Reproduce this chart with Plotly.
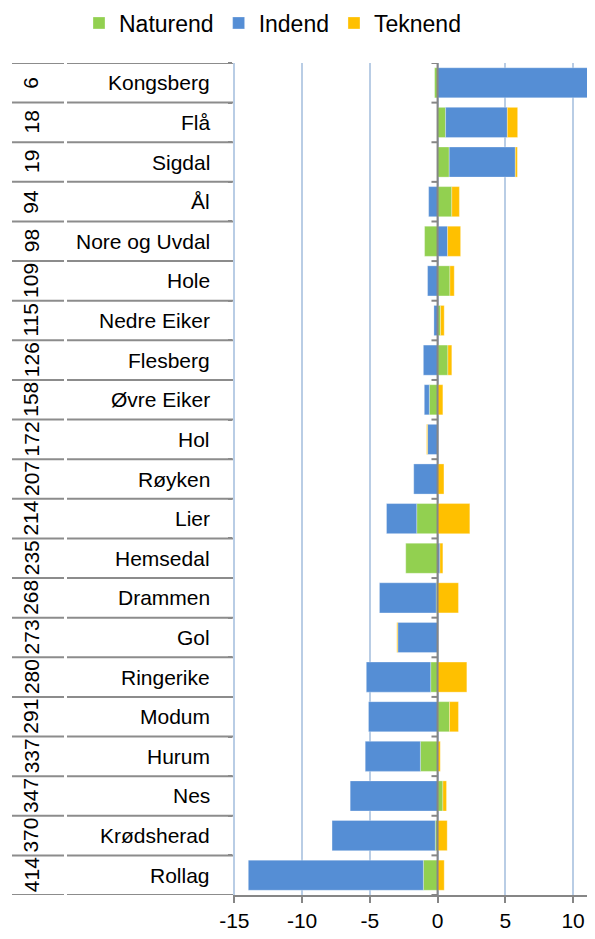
import plotly.graph_objects as go

categories = ["Kongsberg", "Flå", "Sigdal", "Ål", "Nore og Uvdal", "Hole", "Nedre Eiker",
              "Flesberg", "Øvre Eiker", "Hol", "Røyken", "Lier", "Hemsedal", "Drammen",
              "Gol", "Ringerike", "Modum", "Hurum", "Nes", "Krødsherad", "Rollag"]
ranks = [6, 18, 19, 94, 98, 109, 115, 126, 158, 172, 207, 214, 235, 268, 273, 280, 291,
         337, 347, 370, 414]
naturend = [-0.22, 0.59, 0.86, 1.05, -0.96, 0.91, 0.22, 0.76, -0.61, 0.0, 0.0, -1.54,
            -2.35, -0.10, 0.0, -0.51, 0.88, -1.27, 0.39, -0.17, -1.05]
indend = [12.3, 4.56, 4.88, -0.66, 0.74, -0.74, -0.27, -1.05, -0.37, -0.74, -1.76, -2.23,
          0.17, -4.19, -2.94, -4.75, -5.10, -4.07, -6.45, -7.62, -12.92]
teknend = [0.0, 0.76, 0.15, 0.56, 0.96, 0.32, 0.27, 0.29, 0.39, -0.07, 0.47, 2.38, 0.22,
           1.54, -0.07, 2.16, 0.66, 0.20, 0.27, 0.71, 0.49]
tick_vals = [-15, -10, -5, 0, 5, 10]

FONT = "Liberation Sans, Arial, sans-serif"
OFF = 8  # page body margin offset
W, H = 595 - OFF, 939 - 2 * OFF
ML, MR, MT = 233 - OFF, 0, 63 - OFF
MB = H - (895 - OFF)
plot_w = W - ML - MR
plot_h = H - MT - MB

fig = go.Figure()
for name, vals, col in [("Naturend", naturend, "#92D050"),
                        ("Indend", indend, "#558ED5"),
                        ("Teknend", teknend, "#FFC000")]:
    fig.add_trace(go.Bar(y=categories, x=vals, name=name, orientation="h",
                         marker=dict(color=col, line=dict(color="rgba(255,255,255,0.5)", width=0.6))))

def px_to_paper(px):
    # px given in page coordinates of the reference
    return (px - OFF - ML) / plot_w

annotations = []
shapes = []
for i, (c, r) in enumerate(zip(categories, ranks)):
    annotations.append(dict(x=px_to_paper(212), xref="paper", y=c, yref="y", text=c,
                            showarrow=False, xanchor="right", yanchor="middle",
                            font=dict(family=FONT, size=21, color="#000000")))
    annotations.append(dict(x=px_to_paper(31), xref="paper", y=c, yref="y", text=str(r),
                            showarrow=False, xanchor="center", yanchor="middle", textangle=-90,
                            font=dict(family=FONT, size=21, color="#000000")))

for b in range(len(categories) + 1):
    yb = b - 0.5
    shapes.append(dict(type="line", xref="paper", yref="y", x0=px_to_paper(12), x1=px_to_paper(64),
                       y0=yb, y1=yb, line=dict(color="#8C8C8C", width=2)))
    shapes.append(dict(type="line", xref="paper", yref="y", x0=px_to_paper(67), x1=px_to_paper(233),
                       y0=yb, y1=yb, line=dict(color="#8C8C8C", width=2)))
    # ticks on the zero axis
    shapes.append(dict(type="line", xref="x", yref="y", x0=-0.45, x1=0, y0=yb, y1=yb,
                       line=dict(color="#868686", width=2), layer="above"))

# zero axis line
shapes.append(dict(type="line", xref="x", yref="paper", x0=0, x1=0, y0=0, y1=1,
                   line=dict(color="#868686", width=2), layer="above"))

fig.update_layout(
    width=W, height=H,
    margin=dict(l=ML, r=MR, t=MT, b=MB, pad=0, autoexpand=False),
    barmode="relative", bargap=0.24,
    plot_bgcolor="white", paper_bgcolor="white",
    font=dict(family=FONT, size=21, color="#000000"),
    legend=dict(orientation="h", x=px_to_paper(79), xanchor="left",
                y=1 + (MT - (23 - OFF)) / plot_h,
                yanchor="middle", font=dict(family=FONT, size=23, color="#000000"),
                traceorder="normal", bgcolor="rgba(0,0,0,0)"),
    xaxis=dict(range=[-15.1, 11.62], tickvals=tick_vals, ticktext=[str(v) for v in tick_vals],
               showgrid=True, gridcolor="#B9CDE5", gridwidth=2, zeroline=False,
               showline=True, linecolor="#868686", linewidth=2,
               ticks="outside", ticklen=6, tickcolor="#868686", tickwidth=2,
               tickfont=dict(family=FONT, size=21, color="#000000")),
    yaxis=dict(categoryorder="array", categoryarray=categories, range=[20.5, -0.5],
               showticklabels=False, showgrid=False, zeroline=False, showline=False,
               ticks="outside", tickson="boundaries", ticklen=4, tickcolor="#868686", tickwidth=2),
    annotations=annotations, shapes=shapes,
)

fig.write_html("out.html")
